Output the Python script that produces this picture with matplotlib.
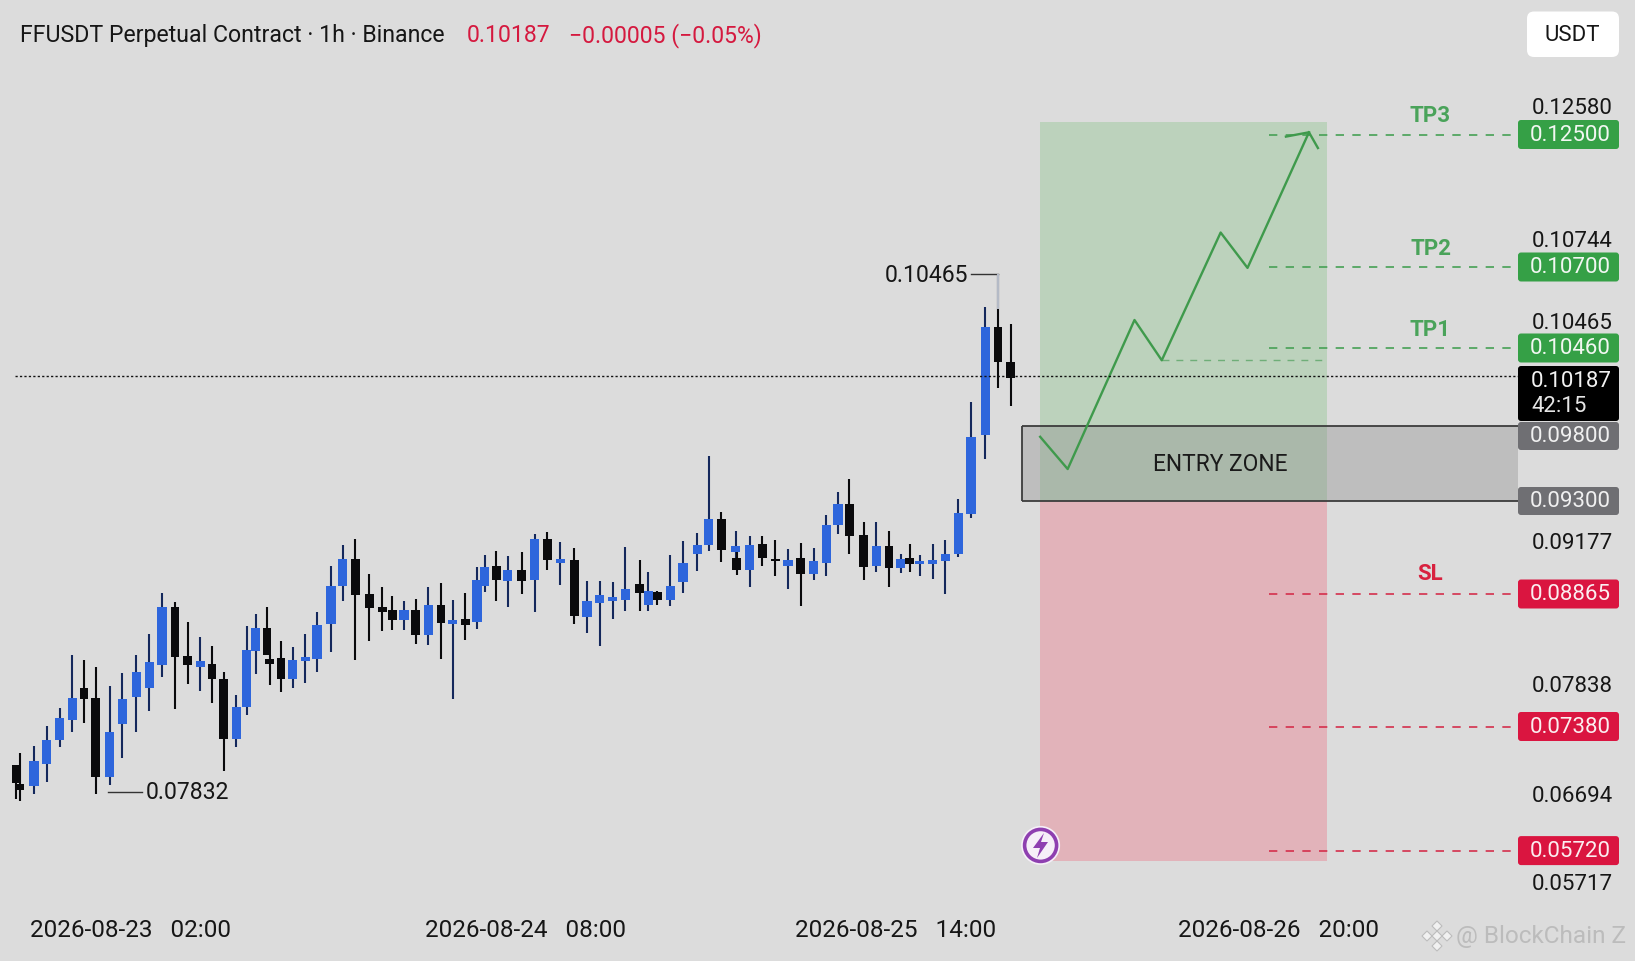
import numpy as np
import matplotlib
matplotlib.use('Agg')
import matplotlib.pyplot as plt
from matplotlib.patches import FancyBboxPatch, Circle, Polygon

plt.rcParams['font.family'] = ['Roboto', 'DejaVu Sans']

W, H = 1635, 962

# candles, time in hours from the first full candle, prices in 1e-5
candle_hour = [-0.3, 0, 1.1, 2.1, 3.1, 4.1, 5.0, 5.9, 7.0, 8.0, 9.1, 10.1, 11.1, 12.1, 13.1, 14.1, 15.0, 15.9, 16.9, 17.7,
               18.4, 19.3, 19.5, 20.4, 21.3, 22.3, 23.2, 24.3, 25.2, 26.2, 27.3, 28.3, 29.1, 30.0, 30.9, 31.9, 32.9, 33.8, 34.8, 35.7,
               36.3, 37.2, 38.1, 39.2, 40.2, 41.2, 42.2, 43.3, 44.3, 45.3, 46.3, 47.3, 48.4, 49.1, 49.8, 50.8, 51.8, 52.9, 53.8, 54.8,
               55.9, 56.0, 57.0, 58.0, 59.0, 60.0, 61.0, 62.0, 63.0, 63.9, 64.8, 65.9, 66.9, 67.9, 68.8, 69.5, 70.3, 71.3, 72.3, 73.3,
               74.3, 75.4, 76.4, 77.4]
candle_open = [7969, 7872, 7864, 7974, 8096, 8199, 8359, 8311, 7910, 8177, 8313, 8362, 8479, 8774, 8525, 8465, 8481, 8404, 8103, 8262,
               8548, 8665, 8508, 8511, 8406, 8496, 8508, 8686, 8877, 9017, 8836, 8770, 8758, 8707, 8758, 8632, 8780, 8685, 8709, 8695,
               8878, 8980, 8902, 8959, 8910, 9119, 8998, 9010, 8721, 8793, 8804, 8810, 8888, 8785, 8851, 8810, 8898, 9040, 9087, 9219,
               9053, 9019, 8962, 9091, 9018, 8979, 9023, 8940, 8996, 9189, 9294, 9138, 8979, 9080, 8969, 9019, 8991, 8991, 9006, 9042,
               9245, 9648, 10197, 10016]
candle_high = [7969, 8030, 8064, 8165, 8259, 8528, 8504, 8465, 8369, 8437, 8530, 8635, 8843, 8796, 8697, 8621, 8572, 8443, 8325, 8677,
               8736, 8770, 8530, 8601, 8570, 8635, 8748, 8982, 9089, 9119, 8941, 8876, 8827, 8802, 8814, 8876, 8892, 8809, 8841, 8975,
               9039, 9059, 9034, 9051, 9144, 9156, 9102, 9071, 8907, 8907, 8898, 9075, 9012, 8949, 8856, 9036, 9110, 9148, 9541, 9253,
               9160, 9058, 9131, 9131, 9113, 9067, 9097, 9070, 9240, 9355, 9423, 9203, 9203, 9160, 9042, 9092, 9036, 9092, 9113, 9321,
               9812, 10295, 10465, 10211]
candle_low = [7796, 7788, 7822, 7881, 8059, 8138, 8182, 7821, 7867, 8003, 8135, 8243, 8418, 8254, 8381, 8343, 8284, 7940, 8059, 8223,
              8431, 8530, 8376, 8338, 8362, 8386, 8440, 8545, 8804, 8505, 8602, 8648, 8656, 8656, 8582, 8580, 8509, 8305, 8605, 8661,
              8851, 8805, 8771, 8839, 8746, 8958, 8885, 8687, 8641, 8573, 8709, 8753, 8753, 8754, 8780, 8776, 8843, 8955, 9058, 8999,
              9016, 8935, 8875, 8979, 8931, 8864, 8776, 8909, 8931, 9141, 9042, 8911, 8952, 8876, 8943, 8952, 8928, 8914, 8838, 9025,
              9223, 9524, 9885, 9795]
candle_close = [7877, 7844, 7988, 8098, 8206, 8308, 8304, 7910, 8135, 8304, 8443, 8491, 8774, 8516, 8479, 8498, 8404, 8103, 8262, 8555,
                8665, 8530, 8482, 8406, 8501, 8520, 8681, 8877, 9016, 8834, 8768, 8746, 8707, 8758, 8632, 8780, 8693, 8707, 8683, 8909,
                8976, 8909, 8959, 8907, 9119, 9010, 9015, 8727, 8802, 8834, 8824, 8865, 8844, 8854, 8810, 8878, 8997, 9089, 9219, 9062,
                9084, 8962, 9087, 9019, 9006, 9009, 8938, 9006, 9191, 9294, 9133, 8977, 9084, 8972, 9018, 8992, 9008, 9009, 9043, 9248,
                9638, 10197, 10019, 9934]

high_label, low_label = 0.10465, 0.07832
high_label_hour, low_label_hour = 76.4, 5.9
faded_wick_from = 0.10287

# date axis
date_hours = [8.67, 39.5, 68.4, 98.3]
date_labels = ['2026-08-23   02:00', '2026-08-24   08:00', '2026-08-25   14:00', '2026-08-26   20:00']

# right price axis, the spacing on it is not even
axis_prices = [0.12580, 0.10744, 0.10465, 0.09177, 0.07838, 0.06694, 0.05717]
last_price = 0.10187
tp_levels = [0.12500, 0.10700, 0.10460]
tp_names = ['TP3', 'TP2', 'TP1']
sl_levels = [0.08865, 0.07380, 0.05720]
entry_top, entry_bottom = 0.09800, 0.09300
zone_top, zone_bottom = 0.12534, 0.05719
tp1_extra = 0.10340

path_hours = [79.7, 81.85, 87.07, 89.2, 93.8, 95.9, 100.7]
path_prices = [0.09728, 0.09513, 0.10465, 0.10340, 0.10832, 0.10696, 0.12506]
arrow_hours = [98.9, 100.7, 101.4]
arrow_prices = [0.12464, 0.12506, 0.12270]

# where each price of the right axis sits, height in pixels above the bottom edge
scale_prices = np.array([0.05, 0.05717, 0.0572, 0.06694, 0.0738, 0.07838, 0.08865, 0.09177, 0.093, 0.098,
                         0.10187, 0.1046, 0.10465, 0.107, 0.10744, 0.125, 0.1258, 0.135])
scale_heights = H - np.array([962, 882, 851.6, 794, 727.5, 684, 595, 541, 502, 427,
                              377, 349, 321, 268, 238.7, 135.5, 106, 0])

def fwd(p):
    return np.interp(p, scale_prices, scale_heights)

def inv(h):
    return np.interp(h, scale_heights, scale_prices)

def px(p):
    return H - fwd(p)

BG = '#dcdcdc'
BLUE = '#2e66dc'
NAVY = '#14285c'
BLACK = '#0a0a0c'
GREEN = '#35a046'
RED = '#da1540'
GREY = '#6f6f73'
FS = 16

fig = plt.figure(figsize=(W / 100, H / 100), dpi=100, facecolor=BG)

# candles
hour_lim = (-20 / 12.8, (W - 20) / 12.8)
ax = fig.add_axes([0, 0, 1, 1], facecolor='none')
unit = (high_label - low_label) / (793 - 275)
ax.set_xlim(hour_lim)
ax.set_ylim(low_label - (H - 793) * unit, high_label + 275 * unit)
ax.axis('off')

t = np.array(candle_hour)
o = np.array(candle_open) / 1e5
h = np.array(candle_high) / 1e5
l = np.array(candle_low) / 1e5
c = np.array(candle_close) / 1e5
up = c >= o
ax.vlines(t[up], l[up], h[up], color=NAVY, lw=1.5, zorder=2)
ax.vlines(t[~up], l[~up], h[~up], color=BLACK, lw=1.5, zorder=2)
ax.bar(t[up], (c - o)[up], bottom=o[up], width=0.72, color=BLUE, zorder=3)
ax.bar(t[~up], (o - c)[~up], bottom=c[~up], width=0.68, color=BLACK, zorder=3)

ax.vlines(high_label_hour, faded_wick_from, high_label, color='#b4bac6', lw=1.5, zorder=4)
ax.plot([high_label_hour - 2.1, high_label_hour], [high_label, high_label], color='#333333', lw=1)
ax.annotate(f'{high_label:.5f}', (high_label_hour - 2.1, high_label), xytext=(-3, 0), textcoords='offset pixels',
            ha='right', va='center', fontsize=16.6, color='#161616')
ax.plot([low_label_hour + 1.0, low_label_hour + 3.6], [low_label, low_label], color='#333333', lw=1)
ax.annotate(f'{low_label:.5f}', (low_label_hour + 3.6, low_label), xytext=(4, 0), textcoords='offset pixels',
            ha='left', va='center', fontsize=16.6, color='#161616')

# trade plan, on the uneven price scale
lv = fig.add_axes([0, 0, 1, 1], facecolor='none')
lv.set_xlim(hour_lim)
lv.set_yscale('function', functions=(fwd, inv))
lv.set_ylim(scale_prices[0], scale_prices[-1])
for s in lv.spines.values():
    s.set_visible(False)

lv.fill_between([79.7, 102.1], entry_bottom, zone_top, facecolor='#a9cca9', alpha=0.62, lw=0, zorder=1)
lv.fill_between([79.7, 102.1], zone_bottom, entry_bottom, facecolor='#e79aa6', alpha=0.62, lw=0, zorder=1)
lv.fill_between([78.3, 117], entry_bottom, entry_top, facecolor='#8f8f8f', alpha=0.38, lw=0, zorder=2)
lv.hlines([entry_top, entry_bottom], 78.3, 117, color='#3c3c3c', lw=1.3, zorder=3)
lv.vlines(78.3, entry_bottom, entry_top, color='#3c3c3c', lw=1.3, zorder=3)
lv.text(93.8, (entry_top + entry_bottom) / 2, 'ENTRY ZONE', ha='center', va='center', fontsize=16.4, color='#1a1a1a', zorder=5)

lv.hlines(tp_levels, 97.6, 117, color='#47a055', lw=1.2, linestyle=(0, (5, 5)), zorder=3)
lv.hlines(tp1_extra, 89.2, 102.1, color='#6fae78', lw=1, linestyle=(0, (5, 5)), zorder=3)
lv.hlines(sl_levels, 97.6, 117, color='#d4304c', lw=1.2, linestyle=(0, (5, 5)), zorder=3)
lv.plot(path_hours, path_prices, color='#3f9a4c', lw=1.7, zorder=4)
lv.plot(arrow_hours, arrow_prices, color='#3f9a4c', lw=1.7, zorder=4)
lv.hlines(last_price, -20 / 12.8 + 1.2, 117, color='#111111', lw=1, linestyle=(0, (1.6, 1.6)), zorder=4)

for name, level in zip(tp_names, tp_levels):
    lv.annotate(name, (110.2, level), xytext=(0, 19), textcoords='offset pixels', ha='center', va='center',
                fontsize=16, fontweight='bold', color='#4aa35a')
lv.annotate('SL', (110.2, sl_levels[0]), xytext=(0, 21), textcoords='offset pixels', ha='center', va='center',
            fontsize=16, fontweight='bold', color='#d8213f')

lv.set_xticks(date_hours, date_labels)
lv.set_yticks(axis_prices, [f'{p:.5f}' for p in axis_prices])
lv.minorticks_off()
lv.tick_params(axis='x', length=0, pad=-31, labelsize=17.5, labelcolor='#161616')
lv.tick_params(axis='y', length=0, left=False, right=False, labelleft=False, labelright=True,
               pad=-(W - 1532) * 0.72, labelsize=FS, labelcolor='#161616')

# price badges, header and icons, in pixels
ui = fig.add_axes([0, 0, 1, 1], facecolor='none')
ui.set_xlim(0, W)
ui.set_ylim(H, 0)
ui.axis('off')

def badge(y0, y1, color, x0=1518, x1=1619, r=3):
    ui.add_patch(FancyBboxPatch((x0, y0), x1 - x0, y1 - y0, boxstyle=f'round,pad=0,rounding_size={r}',
                                fc=color, ec='none', zorder=5))

for level in tp_levels:
    badge(px(level) - 14.5, px(level) + 14.5, GREEN)
    ui.text(1570, px(level), f'{level:.5f}', ha='center', va='center', fontsize=FS, color='#f2f7f2', zorder=6)
for level in sl_levels:
    badge(px(level) - 14.5, px(level) + 14.5, RED)
    ui.text(1570, px(level), f'{level:.5f}', ha='center', va='center', fontsize=FS, color='#fbeef0', zorder=6)

badge(px(last_price) - 10, px(last_price) + 45, '#000000')
ui.text(1531, px(last_price) + 5, f'{last_price:.5f}', ha='left', va='center', fontsize=FS, color='#f2f2f2', zorder=6)
ui.text(1531, px(last_price) + 30, '42:15', ha='left', va='center', fontsize=FS, color='#e6e6e6', zorder=6)

badge(px(entry_top) - 4, px(entry_top) + 24, GREY)
ui.text(1570, px(entry_top) + 10, f'{entry_top:.5f}', ha='center', va='center', fontsize=FS, color='#f0f0f0', zorder=6)
badge(px(entry_bottom) - 14, px(entry_bottom) + 14, GREY)
ui.text(1570, px(entry_bottom), f'{entry_bottom:.5f}', ha='center', va='center', fontsize=FS, color='#f0f0f0', zorder=6)

badge(12.5, 58, '#ffffff', x0=1527, x1=1619, r=7)
ui.text(1572.5, 35.5, 'USDT', ha='center', va='center', fontsize=FS, color='#161616', zorder=6)

ui.text(20, 35.5, 'FFUSDT Perpetual Contract · 1h · Binance', ha='left', va='center', fontsize=16.7, color='#161616')
ui.text(467, 35.5, '0.10187', ha='left', va='center', fontsize=16.6, color='#d5193f')
ui.text(569, 35.5, '\u22120.00005 (\u22120.05%)', ha='left', va='center', fontsize=16.6, color='#d5193f')

# lightning badge
ui.add_patch(Circle((1040.6, 846.4), 19.5, fc='#f6eff8', ec='none', zorder=5))
ui.add_patch(Circle((1040.6, 846.4), 16, fc='none', ec='#8e3fb0', lw=2.6, zorder=6))
ui.add_patch(Polygon([(1044, 834), (1033, 849), (1040, 849), (1037, 859), (1048, 843), (1041, 843)],
                     closed=True, fc='#8e3fb0', ec='none', zorder=6))

# watermark
for dx, dy in [(0, -10), (-10, 0), (10, 0), (0, 10), (0, 0)]:
    ui.add_patch(Polygon([(1437 + dx, 937 + dy - 5), (1437 + dx + 5, 937 + dy), (1437 + dx, 937 + dy + 5), (1437 + dx - 5, 937 + dy)],
                         closed=True, fc='#f1f1f1', ec='#bdbdbd', lw=0.8, zorder=5))
ui.text(1456, 937, '@ BlockChain Z', ha='left', va='center', fontsize=17.6, color='#bcbcbc', zorder=5)

fig.savefig('out.png', dpi=100, facecolor=BG)
